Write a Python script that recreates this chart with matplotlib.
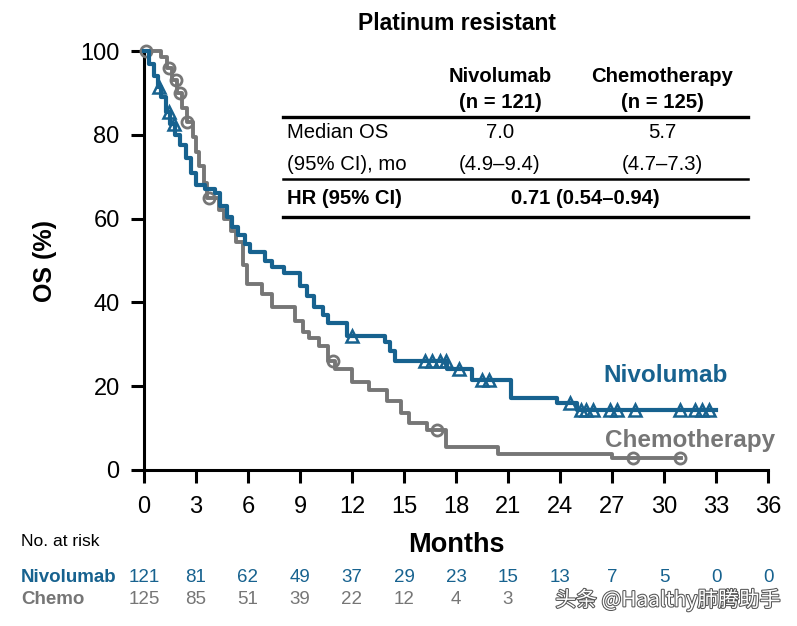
import numpy as np
import matplotlib.pyplot as plt
import matplotlib.patheffects as pe
from matplotlib.transforms import blended_transform_factory

plt.rcParams['font.family'] = ['Liberation Sans', 'DejaVu Sans']

# KM curve Nivolumab (time of step, survival after step)
niv_t = [0, 0.3, 0.55, 0.8, 1.0, 1.25, 1.5, 1.8, 2.1, 2.4,
         2.7, 3.0, 3.5, 4.1, 4.4, 4.8, 5.1, 5.4, 5.8, 6.1,
         7.0, 7.4, 8.1, 9.0, 9.4, 9.8, 10.3, 10.6, 11.7, 13.9,
         14.2, 14.5, 17.5, 18.9, 21.2, 23.8, 25.0]
niv_s = [100, 96.8, 94, 91.4, 89, 85.5, 82.5, 80, 77.5, 74.5,
         71, 68, 67, 66, 63, 60.5, 58, 56, 54, 52,
         50, 48.5, 47, 44, 41.5, 39, 37, 35, 32, 30.5,
         28.5, 26, 24.2, 21.5, 17.2, 16, 14.3]
niv_end = 33.0
niv_cens = [0.85, 1.45, 1.75, 12.0, 16.2, 16.6, 17.1, 17.4, 18.2, 19.5, 19.9,
            24.6, 25.2, 25.5, 25.9, 26.9, 27.3, 28.3, 30.9, 31.8, 32.2, 32.6]

# KM curve Chemotherapy
chemo_t = [0, 1.0, 1.3, 1.6, 1.9, 2.2, 2.5, 2.8, 3.0, 3.2,
           3.45, 3.65, 4.3, 4.6, 5.0, 5.3, 5.7, 5.95, 6.8, 7.4,
           8.7, 9.2, 9.5, 10.1, 10.6, 11.0, 12.0, 13.0, 14.0, 14.8,
           15.3, 16.3, 17.4, 20.4, 27.0]
chemo_s = [100, 98.5, 96, 93, 90, 86.5, 83, 79.5, 76, 72.5,
           68.5, 65, 62, 60, 57, 54.5, 49, 44.5, 42, 39,
           35.5, 33, 31.5, 29.5, 26, 24, 21, 19, 16.5, 13.5,
           11.2, 9.5, 5.5, 3.8, 2.9]
chemo_end = 31.0
chemo_cens = [0.1, 1.45, 1.85, 2.1, 2.5, 3.75, 10.9, 16.9, 28.2, 30.9]

# numbers at risk
risk_months = list(range(0, 37, 3))
niv_risk = [121, 81, 62, 49, 37, 29, 23, 15, 13, 7, 5, 0, 0]
chemo_risk = [125, 85, 51, 39, 22, 12, 4, 3]

BLUE = '#17628f'
GREY = '#767676'
W, H = 797, 626
TS = 14.6  # table font size


def surv_at(times, surv, x):
    i = np.searchsorted(times, x, side='right') - 1
    return np.array(surv)[i]


def fx(px):
    return px / W


def fy(py):
    return 1 - py / H


fig = plt.figure(figsize=(W / 100, H / 100), dpi=100)
ax = fig.add_axes([fx(144), fy(470), (768 - 144) / W, (470 - 51) / H])

ax.step(chemo_t + [chemo_end], chemo_s + [chemo_s[-1]], where='post',
        color=GREY, lw=2.8, zorder=3, clip_on=False)
ax.plot(chemo_cens, surv_at(chemo_t, chemo_s, chemo_cens), 'o', ms=8,
        mfc='none', mec=GREY, mew=2, zorder=4, clip_on=False)

ax.step(niv_t + [niv_end], niv_s + [niv_s[-1]], where='post',
        color=BLUE, lw=3, zorder=5, clip_on=False)
ax.plot(niv_cens, surv_at(niv_t, niv_s, niv_cens), '^', ms=9,
        mfc='none', mec=BLUE, mew=1.8, zorder=6, clip_on=False)

ax.set_xlim(0, 36)
ax.set_ylim(0, 100)
ax.set_xticks(risk_months)
ax.set_yticks(range(0, 101, 20))
for s in ['top', 'right']:
    ax.spines[s].set_visible(False)
for s in ['left', 'bottom']:
    ax.spines[s].set_linewidth(2.2)
ax.tick_params(length=9.5, width=2.2, labelsize=17)
ax.tick_params(axis='x', pad=9)
ax.tick_params(axis='y', pad=8)
ax.set_ylabel('OS (%)', fontsize=18, fontweight='bold', labelpad=17)
ax.set_xlabel('Months', fontsize=19.5, fontweight='bold', labelpad=10)

ax.text(33.7, 22.5, 'Nivolumab', color=BLUE, fontsize=17.5, fontweight='bold',
        ha='right', va='center')
ax.text(36.4, 7.0, 'Chemotherapy', color=GREY, fontsize=17.5, fontweight='bold',
        ha='right', va='center')

# title and table
fig.text(fx(457), fy(24), 'Platinum resistant', fontsize=16.5,
         fontweight='bold', ha='center', va='center')
for py, lw in [(117, 2.4), (179, 1.8), (217, 2.4)]:
    fig.add_artist(plt.Line2D([fx(283), fx(748)], [fy(py), fy(py)],
                              color='black', lw=lw))
fig.text(fx(500), fy(77), 'Nivolumab', fontsize=TS, fontweight='bold',
         ha='center', va='center')
fig.text(fx(500), fy(102), '(n = 121)', fontsize=TS, fontweight='bold',
         ha='center', va='center')
fig.text(fx(662), fy(77), 'Chemotherapy', fontsize=TS, fontweight='bold',
         ha='center', va='center')
fig.text(fx(662), fy(102), '(n = 125)', fontsize=TS, fontweight='bold',
         ha='center', va='center')
fig.text(fx(287), fy(133), 'Median OS', fontsize=TS, ha='left', va='center')
fig.text(fx(287), fy(165), '(95% CI), mo', fontsize=TS, ha='left', va='center')
fig.text(fx(500), fy(133), '7.0', fontsize=TS, ha='center', va='center')
fig.text(fx(662), fy(133), '5.7', fontsize=TS, ha='center', va='center')
fig.text(fx(500), fy(165), '(4.9–9.4)', fontsize=TS, ha='center', va='center')
fig.text(fx(662), fy(165), '(4.7–7.3)', fontsize=TS, ha='center', va='center')
fig.text(fx(287), fy(198), 'HR (95% CI)', fontsize=TS, fontweight='bold',
         ha='left', va='center')
fig.text(fx(585), fy(198), '0.71 (0.54–0.94)', fontsize=TS, fontweight='bold',
         ha='center', va='center')

# numbers at risk
fig.text(fx(21), fy(542), 'No. at risk', fontsize=12.5, ha='left', va='center')
fig.text(fx(21), fy(578), 'Nivolumab', fontsize=13.5, fontweight='bold',
         color=BLUE, ha='left', va='center')
fig.text(fx(21), fy(600), 'Chemo', fontsize=13.5, fontweight='bold',
         color=GREY, ha='left', va='center')
tr = blended_transform_factory(ax.transData, fig.transFigure)
for m, n in zip(risk_months, niv_risk):
    ax.text(m, fy(578), str(n), transform=tr, fontsize=13.5, color=BLUE,
            ha='center', va='center')
for m, n in zip(risk_months, chemo_risk):
    ax.text(m, fy(600), str(n), transform=tr, fontsize=13.5, color=GREY,
            ha='center', va='center')

# watermark
fig.text(fx(668), fy(600), '头条 @Haalthy肺腾助手', fontsize=15,
         family=['Noto Sans CJK SC', 'DejaVu Sans'], color='white',
         ha='center', va='center',
         path_effects=[pe.withStroke(linewidth=1.5, foreground='#555555')])

fig.savefig('out.png', dpi=100)
